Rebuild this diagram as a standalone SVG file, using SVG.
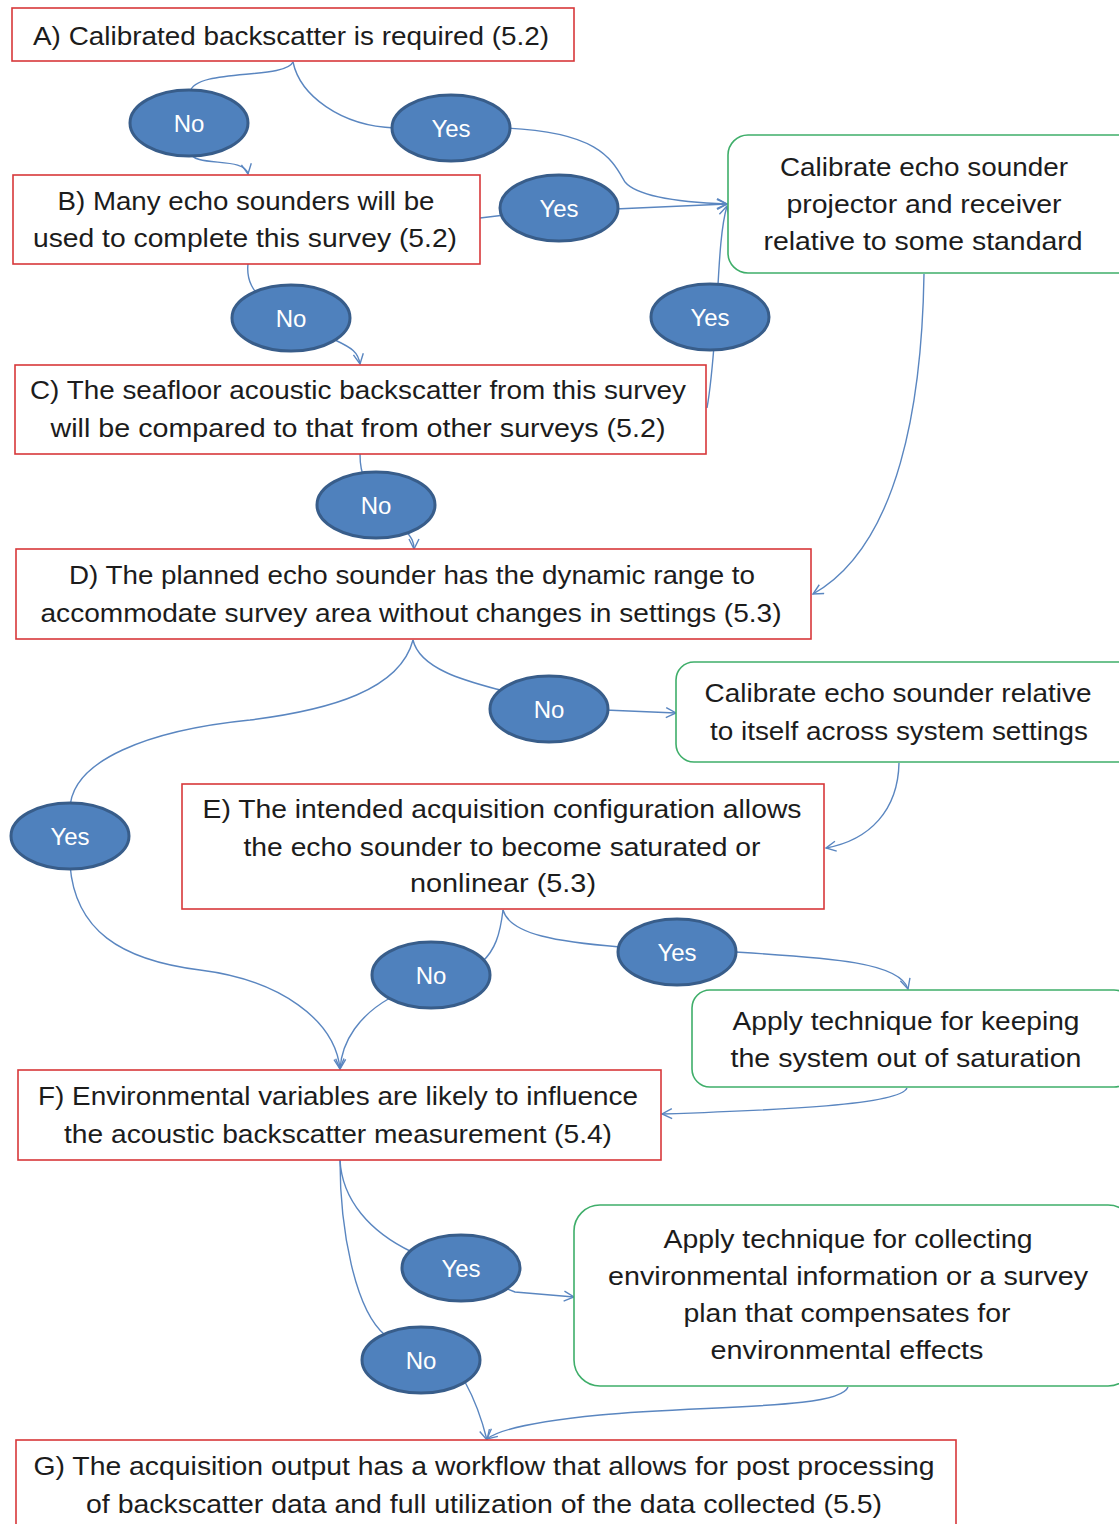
<svg xmlns="http://www.w3.org/2000/svg" width="1119" height="1524" viewBox="0 0 1119 1524">
<defs>
<style>
.q{fill:#fff;stroke:#d7383a;stroke-width:1.6}
.a{fill:#fff;stroke:#3fae6a;stroke-width:1.6}
.t{font-family:"Liberation Sans",Arial,sans-serif;font-size:25px;fill:#1c1c1c;text-anchor:middle}
.e{fill:#4f81bd;stroke:#385d8a;stroke-width:3}
.l{font-family:"Liberation Sans",Arial,sans-serif;font-size:24px;fill:#fff;text-anchor:middle}
.c{fill:none;stroke:#5a86c0;stroke-width:1.4}
</style>
<marker id="ar" viewBox="0 0 12 12" refX="11" refY="6" markerWidth="12" markerHeight="12" markerUnits="userSpaceOnUse" orient="auto">
<path d="M1,1 L11,6 L1,11" fill="none" stroke="#5a86c0" stroke-width="1.4"/>
</marker>
</defs>
<rect width="1119" height="1524" fill="#fff"/>
<g id="connectors">
<path class="c" marker-end="url(#ar)" d="M293,62 C285,80 195,68 190,92 L190,152 C193,168 245,156 248,174"/>
<path class="c" marker-end="url(#ar)" d="M293,62 C300,95 340,126 395,128 L505,128 C600,132 612,160 625,182 C640,200 700,203 727,204"/>
<path class="c" marker-end="url(#ar)" d="M480,218 L505,215 L615,209 L727,204"/>
<path class="c" marker-end="url(#ar)" d="M707,408 C712,380 714,345 716,320 C719,270 720,230 727,206"/>
<path class="c" marker-end="url(#ar)" d="M248,264 C246,282 255,292 262,300 L335,340 C352,348 358,352 360,364"/>
<path class="c" marker-end="url(#ar)" d="M360,454 C360,468 362,474 365,480 L405,530 C412,538 414,542 414,549"/>
<path class="c" marker-end="url(#ar)" d="M924,274 C922,400 900,545 813,594"/>
<path class="c" marker-end="url(#ar)" d="M413,640 C420,670 470,682 500,690 L605,710 L676,713"/>
<path class="c" marker-end="url(#ar)" d="M413,640 C400,690 330,710 250,720 C150,730 70,760 70,810 L70,865 C75,930 120,960 200,970 C280,980 335,1020 340,1069"/>
<path class="c" marker-end="url(#ar)" d="M899,763 C898,810 870,840 826,848"/>
<path class="c" marker-end="url(#ar)" d="M503,910 C510,935 560,942 620,947 L735,952 C830,958 900,962 908,989"/>
<path class="c" marker-end="url(#ar)" d="M503,910 C500,935 495,950 482,962 L390,998 C360,1015 342,1040 340,1069"/>
<path class="c" marker-end="url(#ar)" d="M907,1088 C900,1105 780,1110 662,1114"/>
<path class="c" marker-end="url(#ar)" d="M340,1160 C342,1200 370,1232 412,1252 L515,1292 L574,1297"/>
<path class="c" marker-end="url(#ar)" d="M340,1160 C340,1230 355,1310 385,1335 L465,1382 C475,1400 482,1420 487,1440"/>
<path class="c" marker-end="url(#ar)" d="M848,1387 C840,1410 700,1405 600,1415 C540,1421 500,1428 487,1439"/>
</g>
<g id="A"><rect class="q" x="12" y="8" width="562" height="53"/><text class="t" x="291" y="45" textLength="516" lengthAdjust="spacingAndGlyphs">A) Calibrated backscatter is required (5.2)</text></g>
<g id="B"><rect class="q" x="13" y="175" width="467" height="89"/><text class="t" x="246" y="210" textLength="377" lengthAdjust="spacingAndGlyphs">B) Many echo sounders will be</text><text class="t" x="245" y="247" textLength="424" lengthAdjust="spacingAndGlyphs">used to complete this survey (5.2)</text></g>
<g id="C"><rect class="q" x="15" y="365" width="691" height="89"/><text class="t" x="358" y="399" textLength="656" lengthAdjust="spacingAndGlyphs">C) The seafloor acoustic backscatter from this survey</text><text class="t" x="358" y="437" textLength="615" lengthAdjust="spacingAndGlyphs">will be compared to that from other surveys (5.2)</text></g>
<g id="D"><rect class="q" x="16" y="549" width="795" height="90"/><text class="t" x="412" y="584" textLength="686" lengthAdjust="spacingAndGlyphs">D) The planned echo sounder has the dynamic range to</text><text class="t" x="411" y="622" textLength="741" lengthAdjust="spacingAndGlyphs">accommodate survey area without changes in settings (5.3)</text></g>
<g id="E"><rect class="q" x="182" y="784" width="642" height="125"/><text class="t" x="502" y="818" textLength="599" lengthAdjust="spacingAndGlyphs">E) The intended acquisition configuration allows</text><text class="t" x="502" y="856" textLength="517" lengthAdjust="spacingAndGlyphs">the echo sounder to become saturated or</text><text class="t" x="503" y="892" textLength="186" lengthAdjust="spacingAndGlyphs">nonlinear (5.3)</text></g>
<g id="F"><rect class="q" x="18" y="1070" width="643" height="90"/><text class="t" x="338" y="1105" textLength="600" lengthAdjust="spacingAndGlyphs">F) Environmental variables are likely to influence</text><text class="t" x="338" y="1143" textLength="548" lengthAdjust="spacingAndGlyphs">the acoustic backscatter measurement (5.4)</text></g>
<g id="G"><rect class="q" x="16" y="1440" width="940" height="95"/><text class="t" x="484" y="1475" textLength="901" lengthAdjust="spacingAndGlyphs">G) The acquisition output has a workflow that allows for post processing</text><text class="t" x="484" y="1513" textLength="796" lengthAdjust="spacingAndGlyphs">of backscatter data and full utilization of the data collected (5.5)</text></g>
<g id="cal1"><rect class="a" x="728" y="135" width="410" height="138" rx="20"/><text class="t" x="924" y="176" textLength="288" lengthAdjust="spacingAndGlyphs">Calibrate echo sounder</text><text class="t" x="924" y="213" textLength="275" lengthAdjust="spacingAndGlyphs">projector and receiver</text><text class="t" x="923" y="250" textLength="319" lengthAdjust="spacingAndGlyphs">relative to some standard</text></g>
<g id="cal2"><rect class="a" x="676" y="662" width="460" height="100" rx="18"/><text class="t" x="898" y="702" textLength="387" lengthAdjust="spacingAndGlyphs">Calibrate echo sounder relative</text><text class="t" x="899" y="740" textLength="378" lengthAdjust="spacingAndGlyphs">to itself across system settings</text></g>
<g id="sat"><rect class="a" x="692" y="990" width="440" height="97" rx="18"/><text class="t" x="906" y="1030" textLength="347" lengthAdjust="spacingAndGlyphs">Apply technique for keeping</text><text class="t" x="906" y="1067" textLength="351" lengthAdjust="spacingAndGlyphs">the system out of saturation</text></g>
<g id="env"><rect class="a" x="574" y="1205" width="560" height="181" rx="26"/><text class="t" x="848" y="1248" textLength="369" lengthAdjust="spacingAndGlyphs">Apply technique for collecting</text><text class="t" x="848" y="1285" textLength="480" lengthAdjust="spacingAndGlyphs">environmental information or a survey</text><text class="t" x="847" y="1322" textLength="327" lengthAdjust="spacingAndGlyphs">plan that compensates for</text><text class="t" x="847" y="1359" textLength="273" lengthAdjust="spacingAndGlyphs">environmental effects</text></g>
<g id="noA"><ellipse class="e" cx="189" cy="123" rx="59" ry="33"/><text class="l" x="189" y="132">No</text></g>
<g id="yesA"><ellipse class="e" cx="451" cy="128" rx="59" ry="33"/><text class="l" x="451" y="137">Yes</text></g>
<g id="yesB"><ellipse class="e" cx="559" cy="208" rx="59" ry="33"/><text class="l" x="559" y="217">Yes</text></g>
<g id="noB"><ellipse class="e" cx="291" cy="318" rx="59" ry="33"/><text class="l" x="291" y="327">No</text></g>
<g id="yesC"><ellipse class="e" cx="710" cy="317" rx="59" ry="33"/><text class="l" x="710" y="326">Yes</text></g>
<g id="noC"><ellipse class="e" cx="376" cy="505" rx="59" ry="33"/><text class="l" x="376" y="514">No</text></g>
<g id="noD"><ellipse class="e" cx="549" cy="709" rx="59" ry="33"/><text class="l" x="549" y="718">No</text></g>
<g id="yesD"><ellipse class="e" cx="70" cy="836" rx="59" ry="33"/><text class="l" x="70" y="845">Yes</text></g>
<g id="yesE"><ellipse class="e" cx="677" cy="952" rx="59" ry="33"/><text class="l" x="677" y="961">Yes</text></g>
<g id="noE"><ellipse class="e" cx="431" cy="975" rx="59" ry="33"/><text class="l" x="431" y="984">No</text></g>
<g id="yesF"><ellipse class="e" cx="461" cy="1268" rx="59" ry="33"/><text class="l" x="461" y="1277">Yes</text></g>
<g id="noF"><ellipse class="e" cx="421" cy="1360" rx="59" ry="33"/><text class="l" x="421" y="1369">No</text></g>
</svg>
